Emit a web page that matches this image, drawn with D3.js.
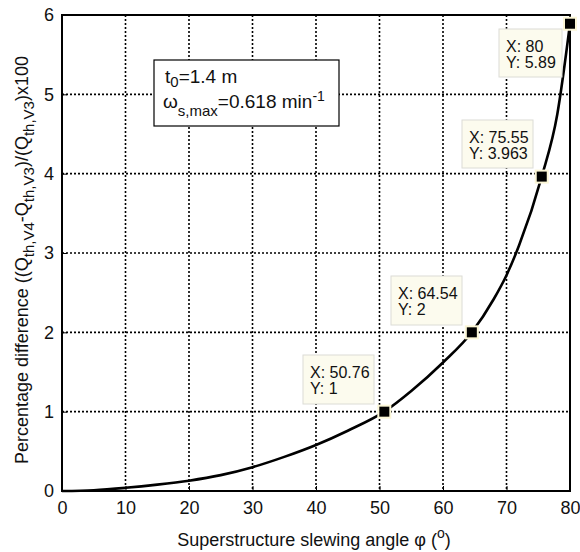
<!DOCTYPE html>
<html>
<head>
<meta charset="utf-8">
<script src="https://cdn.jsdelivr.net/npm/d3@7"></script>
<style>
  body { margin: 0; background: #fff; }
  svg { display: block; font-family: "Liberation Sans", Arial, sans-serif; }
</style>
</head>
<body>
<svg id="chart" width="580" height="552"></svg>
<script>
// ---- data ----
const angles = [0, 5, 10, 15, 20, 25, 30, 35, 40, 45, 50.76, 55, 60, 64.54, 68, 70, 72, 75.55, 78, 80];
const diffs  = [0, 0.01, 0.04, 0.08, 0.13, 0.2, 0.3, 0.43, 0.58, 0.76, 1.0, 1.26, 1.62, 2.0, 2.42, 2.72, 3.1, 3.963, 4.75, 5.89];
const tipX = [50.76, 64.54, 75.55, 80];
const tipY = [1, 2, 3.963, 5.89];
const tipXLabel = ["50.76", "64.54", "75.55", "80"];
const tipYLabel = ["1", "2", "3.963", "5.89"];
const xTicks = [0, 10, 20, 30, 40, 50, 60, 70, 80];
const yTicks = [0, 1, 2, 3, 4, 5, 6];

const svg = d3.select("#chart");
const L = 62, R = 570, T = 15, B = 491;
const x = d3.scaleLinear().domain([0, 80]).range([L, R]);
const y = d3.scaleLinear().domain([0, 6]).range([B, T]);

// grid
const grid = svg.append("g").attr("stroke", "#000").attr("stroke-width", 1.6).attr("stroke-dasharray", "2,2");
grid.selectAll(".gx").data(xTicks.slice(1, -1)).join("line")
  .attr("x1", d => x(d)).attr("x2", d => x(d)).attr("y1", T).attr("y2", B);
grid.selectAll(".gy").data(yTicks.slice(1, -1)).join("line")
  .attr("y1", d => y(d)).attr("y2", d => y(d)).attr("x1", L).attr("x2", R);

// axes
const xAxis = svg.append("g").attr("transform", `translate(0,${B})`)
  .call(d3.axisBottom(x).tickValues(xTicks).tickSize(-5).tickPadding(10).tickFormat(d3.format("d")));
const yAxis = svg.append("g").attr("transform", `translate(${L},0)`)
  .call(d3.axisLeft(y).tickValues(yTicks).tickSize(-5).tickPadding(8).tickFormat(d3.format("d")));
[xAxis, yAxis].forEach(a => {
  a.select(".domain").remove();
  a.selectAll("line").attr("stroke", "#000").attr("stroke-width", 1);
  a.selectAll("text").attr("font-size", 18).attr("fill", "#111").attr("font-family", "Liberation Sans, Arial, sans-serif");
});

// frame
svg.append("rect").attr("x", L).attr("y", T).attr("width", R - L).attr("height", B - T)
  .attr("fill", "none").attr("stroke", "#000").attr("stroke-width", 2);

// curve
const pts = angles.map((a, i) => [a, diffs[i]]);
svg.append("path").datum(pts)
  .attr("fill", "none").attr("stroke", "#000").attr("stroke-width", 2.6)
  .attr("d", d3.line().x(d => x(d[0])).y(d => y(d[1])).curve(d3.curveMonotoneX));

// markers
svg.selectAll(".mk").data(tipX).join("rect")
  .attr("x", (d) => x(d) - 6).attr("y", (d, i) => y(tipY[i]) - 6)
  .attr("width", 12).attr("height", 12)
  .attr("fill", "#000").attr("stroke", "#fbf6d6").attr("stroke-width", 2);

// data tips
const boxes = [
  {bx: 303, by: 355, w: 71, h: 49},
  {bx: 391, by: 276, w: 71, h: 49},
  {bx: 462, by: 120, w: 71, h: 48},
  {bx: 499, by: 29,  w: 63, h: 48}
];
const tips = svg.selectAll(".tip").data(tipX).join("g");
tips.append("rect")
  .attr("x", (d, i) => boxes[i].bx).attr("y", (d, i) => boxes[i].by)
  .attr("width", (d, i) => boxes[i].w).attr("height", (d, i) => boxes[i].h)
  .attr("fill", "#fcfbee").attr("stroke", "#dcdcd6").attr("stroke-width", 1);
tips.append("text")
  .attr("x", (d, i) => boxes[i].bx + 7).attr("y", (d, i) => boxes[i].by + 23)
  .attr("font-size", 16).attr("fill", "#111").text((d, i) => "X: " + tipXLabel[i]);
tips.append("text")
  .attr("x", (d, i) => boxes[i].bx + 7).attr("y", (d, i) => boxes[i].by + 39)
  .attr("font-size", 16).attr("fill", "#111").text((d, i) => "Y: " + tipYLabel[i]);

// annotation box (both lines in a single text element)
svg.append("rect").attr("x", 154).attr("y", 60).attr("width", 185).attr("height", 66)
  .attr("fill", "#fff").attr("stroke", "#000").attr("stroke-width", 1.2);
const ann = svg.append("text").attr("x", 165).attr("y", 83).attr("font-size", 19).attr("fill", "#111");
ann.append("tspan").text("t");
ann.append("tspan").attr("font-size", 15).attr("dy", 4).text("0");
ann.append("tspan").attr("dy", -4).text("=1.4 m");
ann.append("tspan").attr("x", 163).attr("dy", 25).text("ω");
ann.append("tspan").attr("font-size", 15).attr("dy", 8).text("s,max");
ann.append("tspan").attr("dy", -8).text("=0.618 min");
ann.append("tspan").attr("font-size", 14).attr("dy", -7).text("-1");

// x axis title
const xt = svg.append("text").attr("x", 314).attr("y", 546).attr("text-anchor", "middle")
  .attr("font-size", 18).attr("fill", "#111");
xt.append("tspan").text("Superstructure slewing angle φ (");
xt.append("tspan").attr("font-size", 14).attr("dy", -8).text("o");
xt.append("tspan").attr("dy", 8).text(")");

// y axis title
const yt = svg.append("text").attr("transform", "translate(28,260) rotate(-90)")
  .attr("text-anchor", "middle").attr("font-size", 18).attr("fill", "#111");
yt.append("tspan").text("Percentage difference ((Q");
yt.append("tspan").attr("font-size", 15).attr("dy", 6).text("th,V4");
yt.append("tspan").attr("dy", -6).text("-Q");
yt.append("tspan").attr("font-size", 15).attr("dy", 6).text("th,V3");
yt.append("tspan").attr("dy", -6).text(")/(Q");
yt.append("tspan").attr("font-size", 15).attr("dy", 6).text("th,V3");
yt.append("tspan").attr("dy", -6).text(")x100");
</script>
</body>
</html>
